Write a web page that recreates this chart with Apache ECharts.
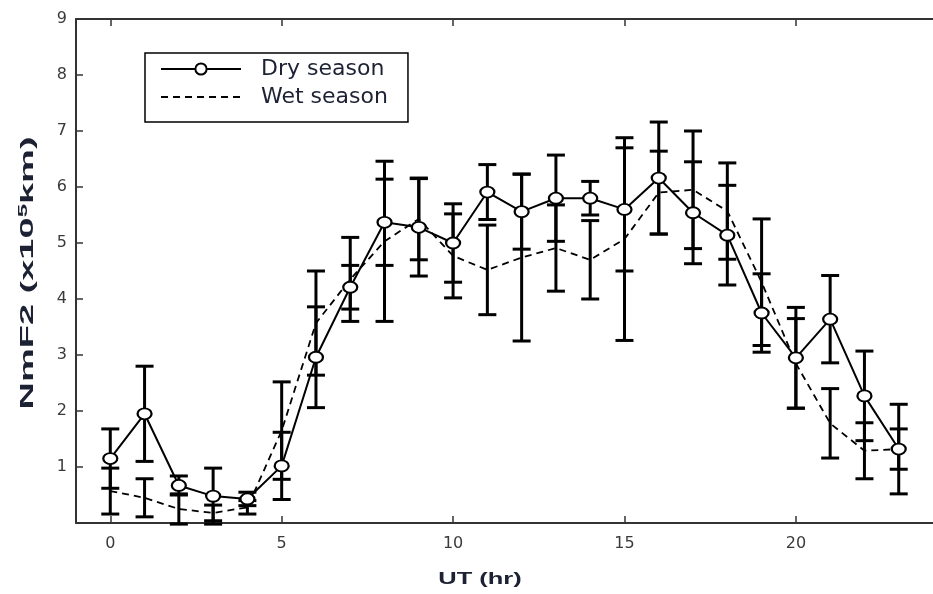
<!DOCTYPE html>
<html>

<head>
	<meta charset="UTF-8">
	<title></title>
	<style>
		html, body { margin: 0; padding: 0; background: #fff; }
		#chart {
			width: 933px;
			height: 594px;
		}
	</style>
	<script src="https://cdn.jsdelivr.net/npm/echarts@6/dist/echarts.min.js"></script>
</head>

<body>
	<div id="chart"></div>
	<script>
		var myChart = echarts.init(document.getElementById('chart'));

		// UT hours
		var hours = [0, 1, 2, 3, 4, 5, 6, 7, 8, 9, 10, 11, 12, 13, 14, 15, 16, 17, 18, 19, 20, 21, 22, 23];
		// dry season mean and error (x10^5)
		var dryMean = [1.15, 1.95, 0.67, 0.48, 0.43, 1.02, 2.96, 4.21, 5.37, 5.28, 5.00, 5.91,
			5.56, 5.80, 5.80, 5.60, 6.16, 5.54, 5.14, 3.75, 2.95, 3.64, 2.27, 1.32];
		var dryErr = [0.53, 0.85, 0.17, 0.50, 0.12, 0.60, 0.90, 0.39, 0.77, 0.87, 0.70, 0.49,
			0.67, 0.77, 0.30, 1.10, 1.00, 0.91, 0.89, 0.70, 0.90, 0.78, 0.80, 0.80];
		// wet season mean and error
		var wetMean = [0.57, 0.45, 0.25, 0.18, 0.28, 1.65, 3.57, 4.35, 5.03, 5.43, 4.77, 4.52,
			4.74, 4.91, 4.70, 5.07, 5.90, 5.95, 5.57, 4.30, 2.85, 1.78, 1.29, 1.32];
		var wetErr = [0.41, 0.34, 0.27, 0.14, 0.12, 0.87, 0.93, 0.75, 1.43, 0.73, 0.75, 0.80,
			1.49, 0.77, 0.70, 1.81, 0.74, 1.05, 0.86, 1.13, 0.80, 0.62, 0.50, 0.36];
		var xTicks = [0, 5, 10, 15, 20];

		function pairs(mean) {
			return hours.map(function (h, i) { return [h, mean[i]]; });
		}
		function errData(mean, err) {
			return hours.map(function (h, i) { return [h, mean[i], err[i]]; });
		}

		// vertical error bar with caps
		function renderBar(params, api) {
			var x = api.value(0), m = api.value(1), e = api.value(2);
			var top = api.coord([x, m + e]);
			var bot = api.coord([x, m - e]);
			var w = 9;
			var st = { stroke: '#000', lineWidth: 3 };
			return {
				type: 'group',
				children: [
					{ type: 'line', shape: { x1: top[0], y1: top[1], x2: bot[0], y2: bot[1] }, style: st },
					{ type: 'line', shape: { x1: top[0] - w, y1: top[1], x2: top[0] + w, y2: top[1] }, style: st },
					{ type: 'line', shape: { x1: bot[0] - w, y1: bot[1], x2: bot[0] + w, y2: bot[1] }, style: st }
				]
			};
		}

		var axisCol = '#333';
		var titleCol = '#1c2233';

		var option = {
			animation: false,
			grid: { left: 76, right: -6, top: 19, bottom: 71 },
			legend: {
				data: ['Dry season', { name: 'Wet season', itemStyle: { opacity: 0 } }],
				orient: 'vertical',
				left: 145,
				top: 53,
				padding: [5, 20, 14, 15],
				itemGap: 6,
				itemWidth: 80,
				itemHeight: 14,
				borderColor: '#000',
				borderWidth: 1.5,
				textStyle: {
					fontFamily: 'DejaVu Sans',
					fontSize: 22,
					color: titleCol,
					padding: [0, 0, 0, 15]
				}
			},
			xAxis: [{
				type: 'value',
				min: -1,
				max: 24,
				axisLine: { onZero: false, lineStyle: { color: axisCol, width: 2 } },
				axisTick: { inside: true, length: 7, customValues: xTicks, lineStyle: { color: axisCol, width: 1.5 } },
				axisLabel: {
					customValues: xTicks,
					margin: 13,
					fontFamily: 'DejaVu Sans',
					fontSize: 16,
					color: '#3a3a3a'
				},
				splitLine: { show: false }
			}, {
				type: 'value',
				position: 'top',
				min: -1,
				max: 24,
				axisLine: { onZero: false, lineStyle: { color: axisCol, width: 2 } },
				axisTick: { inside: true, length: 7, customValues: xTicks, lineStyle: { color: axisCol, width: 1.5 } },
				axisLabel: { show: false },
				splitLine: { show: false }
			}],
			yAxis: {
				type: 'value',
				min: 0,
				max: 9,
				interval: 1,
				axisLine: { show: true, onZero: false, lineStyle: { color: axisCol, width: 2 } },
				axisTick: { show: true, inside: true, length: 7, lineStyle: { color: axisCol, width: 1.5 } },
				axisLabel: {
					margin: 9,
					fontFamily: 'DejaVu Sans',
					fontSize: 16,
					color: '#3a3a3a',
					formatter: function (v) { return v === 0 ? '' : v; }
				},
				splitLine: { show: false }
			},
			graphic: [{
				type: 'text',
				x: 480,
				y: 579,
				scaleX: 1.5,
				style: {
					text: 'UT (hr)',
					fontFamily: 'Liberation Sans',
					fontWeight: 'bold',
					fontSize: 17,
					fill: titleCol,
					align: 'center',
					verticalAlign: 'middle'
				}
			}, {
				type: 'text',
				x: 28,
				y: 273,
				rotation: Math.PI / 2,
				scaleX: 2.0,
				style: {
					text: '{a|NmF2 (x10}{s|5}{a|km)}',
					align: 'center',
					verticalAlign: 'middle',
					rich: {
						a: { fontFamily: 'Liberation Sans', fontWeight: 'bold', fontSize: 19, fill: titleCol },
						s: { fontFamily: 'Liberation Sans', fontWeight: 'bold', fontSize: 12, fill: titleCol, padding: [0, 0, 9, 0] }
					}
				}
			}],
			series: [{
				name: 'Dry err',
				type: 'custom',
				renderItem: renderBar,
				data: errData(dryMean, dryErr),
				z: 3
			}, {
				name: 'Wet err',
				type: 'custom',
				renderItem: renderBar,
				data: errData(wetMean, wetErr),
				z: 3
			}, {
				name: 'Wet season',
				type: 'line',
				data: pairs(wetMean),
				symbol: 'none',
				lineStyle: { color: '#000', width: 1.8, type: [7, 5] },
				itemStyle: { color: '#000' },
				z: 4
			}, {
				name: 'Dry season',
				type: 'line',
				data: pairs(dryMean),
				symbol: 'emptyCircle',
				symbolSize: [14, 11],
				lineStyle: { color: '#000', width: 2 },
				itemStyle: { color: '#000', borderColor: '#000', borderWidth: 2 },
				z: 5
			}]
		};

		myChart.setOption(option);
	</script>
</body>

</html>
